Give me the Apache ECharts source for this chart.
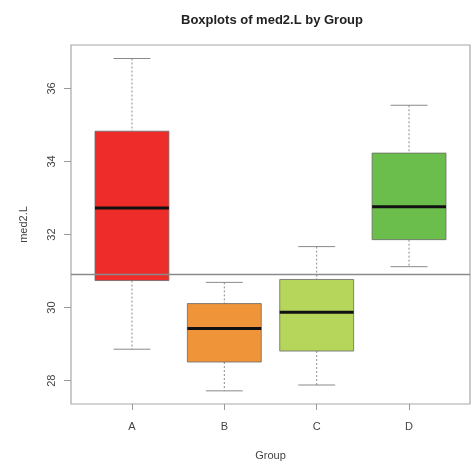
<!DOCTYPE html>
<html>
<head>
<meta charset="utf-8">
<script src="https://cdn.jsdelivr.net/npm/echarts@6/dist/echarts.min.js"></script>
<style>
html,body{margin:0;padding:0;background:#fff;}
#chart{width:473px;height:468px;}
</style>
</head>
<body>
<div id="chart"></div>
<script>
var groups = ['A', 'B', 'C', 'D'];
var lowerWhisker = [28.86, 27.72, 27.88, 31.12];
var q1Values = [30.74, 28.51, 28.81, 31.86];
var medians = [32.73, 29.43, 29.87, 32.76];
var q3Values = [34.83, 30.11, 30.77, 34.23];
var upperWhisker = [36.82, 30.69, 31.67, 35.54];
var boxColors = ['#EE2D2A', '#F0943A', '#B5D55B', '#6CBE4C'];
var referenceLine = 30.9;
var yTicks = [28, 30, 32, 34, 36];
var xTicks = [1, 2, 3, 4];

var data = groups.map(function (g, i) {
  return [i + 1, lowerWhisker[i], q1Values[i], medians[i], q3Values[i], upperWhisker[i]];
});

var chart = echarts.init(document.getElementById('chart'));

function renderBox(params, api) {
  var x = api.value(0);
  var lo = api.coord([x, api.value(1)]);
  var q1 = api.coord([x, api.value(2)]);
  var med = api.coord([x, api.value(3)]);
  var q3 = api.coord([x, api.value(4)]);
  var hi = api.coord([x, api.value(5)]);
  var halfW = api.size([0.8, 0])[0] / 2;
  var capW = halfW / 2;
  var cx = lo[0];
  var color = boxColors[params.dataIndex];
  var dash = {stroke: '#8a8a8a', lineWidth: 1, lineDash: [2, 2]};
  var solid = {stroke: '#8a8a8a', lineWidth: 1};
  return {
    type: 'group',
    children: [
      {type: 'line', shape: {x1: cx, y1: hi[1], x2: cx, y2: q3[1]}, style: dash},
      {type: 'line', shape: {x1: cx, y1: q1[1], x2: cx, y2: lo[1]}, style: dash},
      {type: 'line', shape: {x1: cx - capW, y1: hi[1], x2: cx + capW, y2: hi[1]}, style: solid},
      {type: 'line', shape: {x1: cx - capW, y1: lo[1], x2: cx + capW, y2: lo[1]}, style: solid},
      {type: 'rect', shape: {x: cx - halfW, y: q3[1], width: halfW * 2, height: q1[1] - q3[1]},
        style: {fill: color, stroke: '#6a6a6a', lineWidth: 0.8}},
      {type: 'line', shape: {x1: cx - halfW, y1: med[1], x2: cx + halfW, y2: med[1]},
        style: {stroke: '#111', lineWidth: 3}}
    ]
  };
}

var option = {
  animation: false,
  backgroundColor: '#fff',
  title: {
    text: 'Boxplots of med2.L by Group',
    left: 267, top: 9, textAlign: 'center',
    textStyle: {fontFamily: 'Liberation Sans', fontSize: 13, fontWeight: 'bold', color: '#222'}
  },
  grid: {left: 71, right: 3, top: 45, bottom: 64, show: true, borderColor: '#a8a8a8', borderWidth: 1.2, backgroundColor: 'transparent'},
  xAxis: {
    type: 'value', min: 0.34, max: 4.66,
    name: 'Group', nameLocation: 'middle', nameGap: 46,
    nameTextStyle: {fontFamily: 'Liberation Sans', fontSize: 11, color: '#444'},
    axisLine: {show: false},
    splitLine: {show: false},
    axisTick: {show: true, length: 6, customValues: xTicks, lineStyle: {color: '#999'}},
    axisLabel: {customValues: xTicks, margin: 17, fontFamily: 'Liberation Sans', fontSize: 11, color: '#444',
      formatter: function (v) { return groups[Math.round(v) - 1] || ''; }}
  },
  yAxis: {
    type: 'value', min: 27.36, max: 37.19,
    name: 'med2.L', nameLocation: 'middle', nameGap: 42,
    nameTextStyle: {fontFamily: 'Liberation Sans', fontSize: 11, color: '#444'},
    axisLine: {show: false},
    splitLine: {show: false},
    axisTick: {show: true, length: 7, customValues: yTicks, lineStyle: {color: '#999'}},
    axisLabel: {customValues: yTicks, rotate: 90, margin: 14, fontFamily: 'Liberation Sans', fontSize: 11, color: '#444'}
  },
  series: [
    {
      type: 'custom',
      renderItem: renderBox,
      data: data,
      encode: {x: 0, y: [1, 2, 3, 4, 5]},
      z: 2
    },
    {
      type: 'line',
      data: [],
      markLine: {
        silent: true, symbol: 'none', label: {show: false},
        lineStyle: {color: '#8a8a8a', type: 'solid', width: 1.3},
        data: [{yAxis: referenceLine}]
      },
      z: 5
    }
  ]
};
chart.setOption(option);
</script>
</body>
</html>
